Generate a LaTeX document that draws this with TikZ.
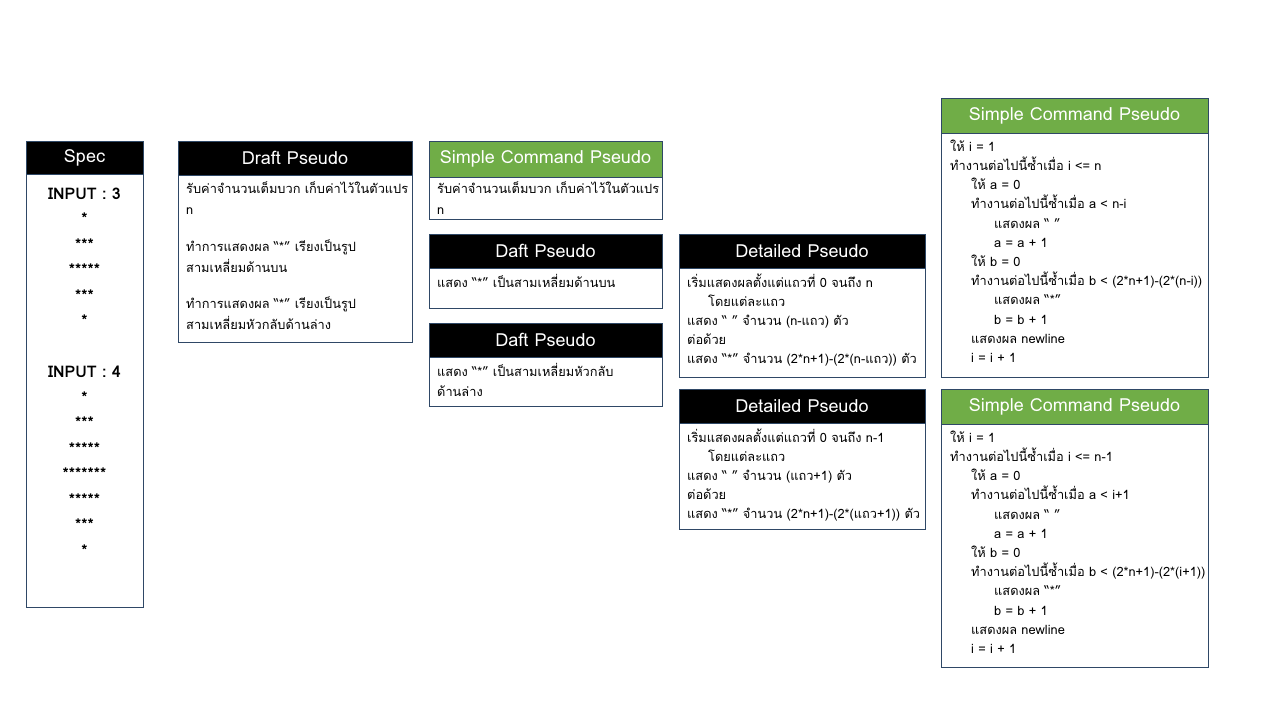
\documentclass[tikz,border=0pt]{standalone}
\usepackage{fontspec}
\setmainfont[Script=Thai]{Loma}
\definecolor{bd}{RGB}{47,72,102}
\definecolor{gr}{RGB}{112,173,71}
\tikzset{
  hdr/.style={draw=bd, line width=0.8pt, text=white, inner sep=0pt, font=\fontsize{18}{20}\selectfont},
  bdy/.style={draw=bd, line width=0.8pt, fill=white, inner sep=0pt},
  txt/.style={anchor=base west, inner sep=0pt, font=\fontsize{12.8}{19.2}\selectfont},
  spectxt/.style={anchor=base, inner sep=0pt, font=\fontsize{16}{25.5}\selectfont\bfseries}
}
\newcommand\pbox[8]{%
  \node[bdy, minimum width={#4-#2}, minimum height={#6-#5}] (#1b) at ({(#2+#4)/2},{(#5+#6)/2}) {};
  \node[hdr, fill=#7, minimum width={#4-#2}, minimum height={#5-#3}] (#1h) at ({(#2+#4)/2},{(#3+#5)/2}) {#8};
}
\newcommand\tlines[1]{\begin{tabular}[t]{@{}l@{}}#1\end{tabular}}
\newcommand\clines[1]{\begin{tabular}[t]{@{}c@{}}#1\end{tabular}}
\newcommand\ind{\hspace*{21pt}}
\newcommand\indd{\hspace*{44pt}}
\begin{document}
\begin{tikzpicture}[x=1pt,y=-1pt]
\useasboundingbox (0,0) rectangle (1280,720);
\pbox{spec}{26}{141}{143}{174}{607}{black}{Spec}
\pbox{draft}{178}{141}{412}{175}{342}{black}{Draft Pseudo}
\pbox{sca}{429}{141}{662}{177}{219}{gr}{Simple Command Pseudo}
\pbox{dafta}{429}{234}{662}{268}{308}{black}{Daft Pseudo}
\pbox{daftb}{429}{323}{662}{357}{406}{black}{Daft Pseudo}
\pbox{deta}{679}{234}{925}{268}{377}{black}{Detailed Pseudo}
\pbox{detb}{679}{389}{925}{423}{529}{black}{Detailed Pseudo}
\pbox{scb}{941}{98}{1208}{133}{377}{gr}{Simple Command Pseudo}
\pbox{scc}{941}{389}{1208}{424}{667}{gr}{Simple Command Pseudo}

\node[spectxt] (spect) at (84.5,199) {\clines{INPUT : 3\\{*}\\{***}\\{*****}\\{***}\\{*}\\[25.5pt]INPUT : 4\\{*}\\{***}\\{*****}\\{*******}\\{*****}\\{***}\\{*}}};

\node[txt, font=\fontsize{12.8}{21}\selectfont] (draftt) at (186,193) {\tlines{รับค่าจำนวนเต็มบวก เก็บค่าไว้ในตัวแปร\\n\\[16pt]ทำการแสดงผล “*” เรียงเป็นรูป\\สามเหลี่ยมด้านบน\\[15pt]ทำการแสดงผล “*” เรียงเป็นรูป\\สามเหลี่ยมหัวกลับด้านล่าง}};

\node[txt, font=\fontsize{12.8}{21}\selectfont] (scat) at (437,193) {\tlines{รับค่าจำนวนเต็มบวก เก็บค่าไว้ในตัวแปร\\n}};

\node[txt] (daftat) at (437,287) {\tlines{แสดง “*” เป็นสามเหลี่ยมด้านบน}};
\node[txt, font=\fontsize{12.8}{20}\selectfont] (daftbt) at (437,376) {\tlines{แสดง “*” เป็นสามเหลี่ยมหัวกลับ\\ด้านล่าง}};

\node[txt] (detat) at (687,287) {\tlines{เริ่มแสดงผลตั้งแต่แถวที่ 0 จนถึง n\\\ind โดยแต่ละแถว\\แสดง “ ” จำนวน (n-แถว) ตัว\\ต่อด้วย\\แสดง “*” จำนวน (2*n+1)-(2*(n-แถว)) ตัว}};
\node[txt] (detbt) at (687,442) {\tlines{เริ่มแสดงผลตั้งแต่แถวที่ 0 จนถึง n-1\\\ind โดยแต่ละแถว\\แสดง “ ” จำนวน (แถว+1) ตัว\\ต่อด้วย\\แสดง “*” จำนวน (2*n+1)-(2*(แถว+1)) ตัว}};

\node[txt] (scbt) at (950,151) {\tlines{ให้ i = 1\\ทำงานต่อไปนี้ซ้ำเมื่อ i <= n\\\ind ให้ a = 0\\\ind ทำงานต่อไปนี้ซ้ำเมื่อ a < n-i\\\indd แสดงผล “ ”\\\indd a = a + 1\\\ind ให้ b = 0\\\ind ทำงานต่อไปนี้ซ้ำเมื่อ b < (2*n+1)-(2*(n-i))\\\indd แสดงผล “*”\\\indd b = b + 1\\\ind แสดงผล newline\\\ind i = i + 1}};
\node[txt] (scct) at (950,442) {\tlines{ให้ i = 1\\ทำงานต่อไปนี้ซ้ำเมื่อ i <= n-1\\\ind ให้ a = 0\\\ind ทำงานต่อไปนี้ซ้ำเมื่อ a < i+1\\\indd แสดงผล “ ”\\\indd a = a + 1\\\ind ให้ b = 0\\\ind ทำงานต่อไปนี้ซ้ำเมื่อ b < (2*n+1)-(2*(i+1))\\\indd แสดงผล “*”\\\indd b = b + 1\\\ind แสดงผล newline\\\ind i = i + 1}};
\end{tikzpicture}
\end{document}
